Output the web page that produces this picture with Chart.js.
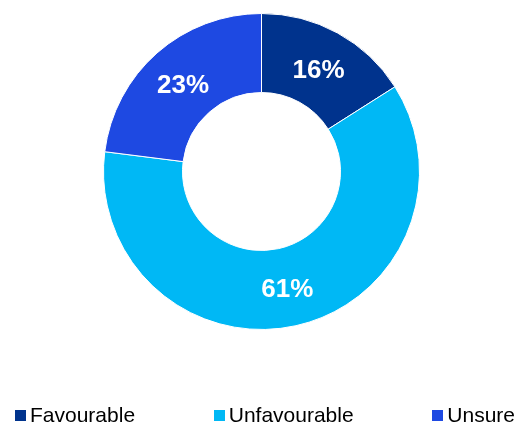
<!DOCTYPE html>
<html>
<head>
<meta charset="utf-8">
<script src="https://cdn.jsdelivr.net/npm/chart.js@4/dist/chart.umd.min.js"></script>
<style>
  html, body { margin: 0; padding: 0; background: #fff; }
  #wrap { position: relative; width: 529px; height: 426px; }
  #chart { position: absolute; left: 0; top: 0; }
  #legend {
    position: absolute; left: 15px; right: 14px; top: 403px;
    display: flex; justify-content: space-between; align-items: center;
    font-family: "Liberation Sans", Arial, sans-serif; font-size: 21px; color: #000;
  }
  #legend .item { display: flex; align-items: center; white-space: nowrap; }
  #legend .box { width: 11px; height: 11px; margin-right: 4px; }
</style>
</head>
<body>
<div id="wrap">
  <canvas id="chart" width="529" height="426"></canvas>
  <div id="legend"></div>
</div>
<script>
// ---- data -------------------------------------------------------------
const labels = ["Favourable", "Unfavourable", "Unsure"];
const shares = [16, 61, 23];
const colors = ["#00338D", "#00B8F5", "#1E49E2"];

// ---- percentage labels in the middle of each ring segment ---------------
const sliceLabels = {
  id: "sliceLabels",
  afterDatasetsDraw(chart) {
    const ctx = chart.ctx;
    const meta = chart.getDatasetMeta(0);
    ctx.save();
    ctx.fillStyle = "#ffffff";
    ctx.font = "bold 26px 'Liberation Sans', Arial, sans-serif";
    ctx.textAlign = "center";
    ctx.textBaseline = "middle";
    meta.data.forEach((arc, i) => {
      const p = arc.tooltipPosition();
      ctx.fillText(shares[i] + "%", p.x, p.y + 3);
    });
    ctx.restore();
  },
};

Chart.defaults.font.family = "'Liberation Sans', Arial, sans-serif";

new Chart(document.getElementById("chart"), {
  type: "doughnut",
  data: {
    labels: labels,
    datasets: [{
      data: shares,
      backgroundColor: colors,
      borderColor: "#ffffff",
      borderWidth: 1,
    }],
  },
  options: {
    responsive: false,
    animation: false,
    cutout: "50%",
    layout: { padding: { left: 103, right: 109, top: 13, bottom: 96 } },
    plugins: {
      legend: { display: false },
      tooltip: { enabled: false },
    },
  },
  plugins: [sliceLabels],
});

// ---- legend row under the ring -----------------------------------------
const legendEl = document.getElementById("legend");
labels.forEach((name, i) => {
  const item = document.createElement("div");
  item.className = "item";
  const box = document.createElement("span");
  box.className = "box";
  box.style.background = colors[i];
  const txt = document.createElement("span");
  txt.textContent = name;
  item.appendChild(box);
  item.appendChild(txt);
  legendEl.appendChild(item);
});
</script>
</body>
</html>
